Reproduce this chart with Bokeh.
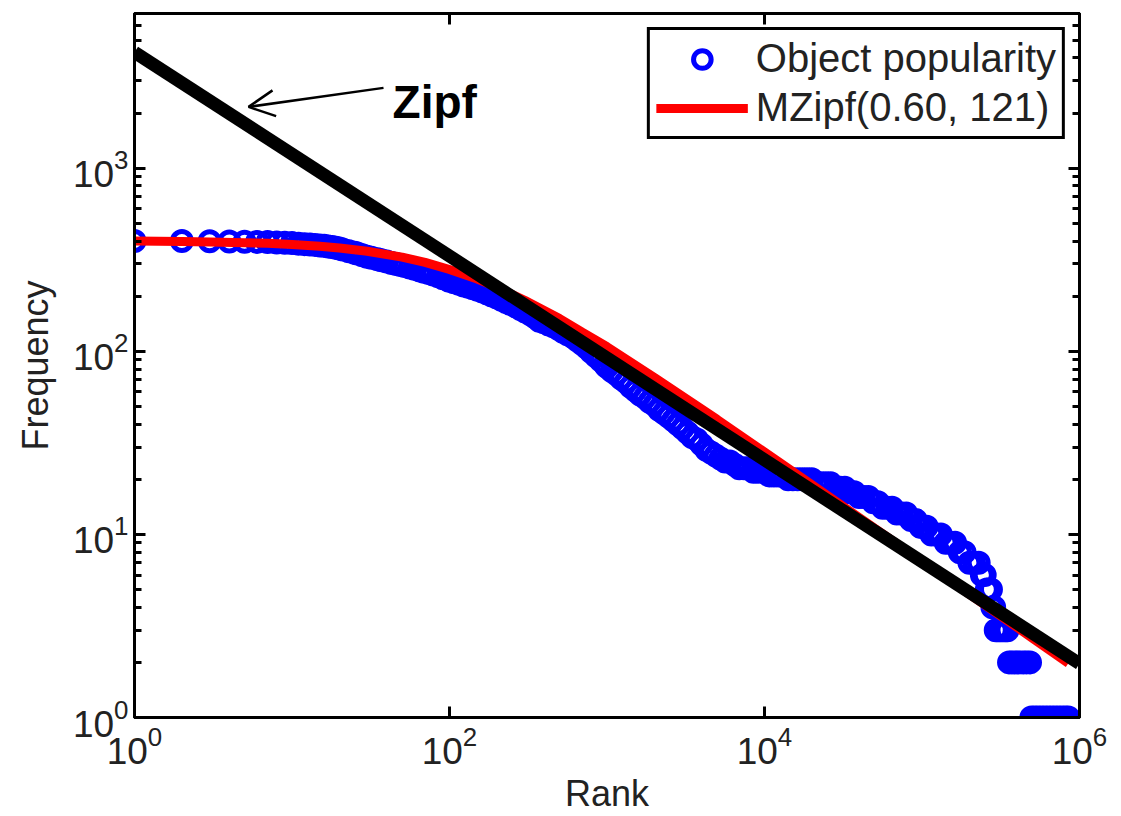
from bokeh.plotting import figure
from bokeh.models import (Range1d, FixedTicker, LogAxis, Legend, LegendItem,
                          Label, Arrow, OpenHead)
from bokeh.embed import file_html
from bokeh.resources import INLINE

# ---- data ----
obj_rank = [1, 2, 3, 4, 5, 6, 7, 8, 9, 10, 11, 12, 13, 14, 15, 16, 17, 18, 19, 20,
            21, 23, 25, 26, 28, 30, 32, 35, 37, 40, 43, 46, 49, 52, 56, 60, 65, 69, 74, 79, 85, 91, 98,
            100, 107, 115, 123, 132, 141, 151, 162, 174, 186, 200, 214, 229, 245, 263, 282, 302, 324,
            347, 372, 398, 427, 457, 490, 525, 562, 603, 646, 692, 741, 794, 851, 912, 977,
            1000, 1072, 1148, 1230, 1318, 1413, 1514, 1622, 1738, 1862, 1995, 2138, 2291, 2455, 2630,
            2818, 3020, 3236, 3467, 3715, 3981, 4266, 4571, 4898, 5248, 5623, 6026, 6457, 6918, 7413,
            7943, 8511, 9120, 9772,
            10000, 10720, 11480, 12300, 13180, 14130, 15140, 16220, 17380, 18620, 19950, 21380, 22910,
            24550, 26300, 28180, 30200, 32360, 34670, 37150, 39810, 42660, 45710, 48980, 52480, 56230,
            60260, 64570, 69180, 74130, 79430, 85110, 91200, 97720,
            100000, 107200, 114800, 123000, 131800, 141300, 151400, 162200, 173800, 186200,
            200000, 214000, 229000, 240000, 250000, 258000, 266000, 274000, 280000, 287000,
            294000, 302000, 311000, 320000, 330000, 340000, 349000,
            357000, 372000, 388000, 405000, 423000, 442000, 462000, 485000,
            495000, 520000, 546000, 574000, 603000, 634000, 666000, 700000, 736000, 774000, 813000, 850000]
obj_freq = [400, 400, 399, 398, 397, 396, 395, 393, 392, 390, 387, 385, 383, 381, 379, 377, 374, 371, 368, 364,
            360, 352, 345, 342, 335, 328, 324, 318, 314, 309, 304, 300, 296, 292, 287, 282, 276, 272, 268, 263, 257, 251, 245,
            243, 238, 234, 229, 225, 221, 217, 212, 207, 202, 197, 191, 186, 181, 176, 170, 165, 160,
            154, 147, 144, 140, 137, 133, 128, 124, 120, 115, 110, 105, 99, 94, 89, 84,
            82, 78, 75, 71, 68, 64, 61, 58, 56, 53, 51, 48, 46, 44, 42,
            40, 38, 36, 34, 33, 31, 29, 28, 27, 26, 25, 25, 24, 23, 23,
            23, 22, 22, 22,
            22, 21, 21, 21, 21, 20, 20, 20, 20, 20, 20, 19, 19,
            19, 19, 18, 18, 18, 17, 17, 16, 16, 16, 15, 15, 14,
            14, 14, 13, 13, 13, 12, 12, 11,
            11, 11, 10, 10, 10, 9, 9, 9, 8, 8,
            7, 7, 7, 6, 6, 5, 5, 5, 4, 4,
            3, 3, 3, 3, 3, 3, 3,
            2, 2, 2, 2, 2, 2, 2, 2,
            1, 1, 1, 1, 1, 1, 1, 1, 1, 1, 1, 1]

mz_rank = [1, 2, 3, 5, 7, 10, 15, 20, 30, 50, 70, 100, 150, 200, 300, 500, 700, 1000,
           2000, 5000, 10000, 20000, 50000, 100000, 200000, 500000, 850000]
mz_freq = [400, 398, 396, 392, 389, 383, 375, 367, 352, 327, 306, 280, 248, 224, 190, 151, 127, 106,
           72, 42.5, 28.2, 18.7, 10.8, 7.14, 4.71, 2.72, 1.98]

zipf_rank = [1, 1000000]
zipf_freq = [4300, 1.97]

x_ticks = [1, 100, 10000, 1000000]
y_ticks = [1, 10, 100, 1000]
y_minor = [m * t for t in y_ticks for m in range(2, 10)]

FONT = "Liberation Sans"

p = figure(width=1121, height=816, x_axis_type="log", y_axis_type="log",
           x_range=Range1d(1, 1e6), y_range=Range1d(1, 7000),
           output_backend="svg", toolbar_location=None,
           min_border_left=134, min_border_right=42, min_border_top=13, min_border_bottom=97)
p.xgrid.visible = False
p.ygrid.visible = False
p.outline_line_color = "black"
p.outline_line_width = 3
p.background_fill_color = "white"
p.border_fill_color = "white"


def style(ax):
    ax.axis_line_color = "black"
    ax.axis_line_width = 3
    ax.major_tick_in = 11
    ax.major_tick_out = 0
    ax.minor_tick_in = 7
    ax.minor_tick_out = 0
    ax.major_tick_line_width = 3
    ax.minor_tick_line_width = 3
    ax.major_tick_line_color = "black"
    ax.minor_tick_line_color = "black"
    ax.major_label_text_font = FONT
    ax.major_label_text_font_size = "37px"
    ax.major_label_text_color = "#222222"
    ax.axis_label_text_font = FONT
    ax.axis_label_text_font_style = "normal"
    ax.axis_label_text_font_size = "36px"
    ax.axis_label_text_color = "#222222"


xa = p.xaxis[0]
xa.ticker = FixedTicker(ticks=x_ticks, minor_ticks=[])
style(xa)
xa.axis_label = "Rank"
xa.major_label_standoff = 8
xa.axis_label_standoff = 6

ya = p.yaxis[0]
ya.ticker = FixedTicker(ticks=y_ticks, minor_ticks=y_minor)
style(ya)
ya.axis_label = "Frequency"
ya.major_label_standoff = 6
ya.axis_label_standoff = 14

top = LogAxis(ticker=FixedTicker(ticks=x_ticks, minor_ticks=[]))
style(top)
top.major_label_text_font_size = "1px"
top.major_label_text_color = None
top.major_label_standoff = 0
p.add_layout(top, "above")

right = LogAxis(ticker=FixedTicker(ticks=y_ticks, minor_ticks=y_minor))
style(right)
right.major_label_text_font_size = "1px"
right.major_label_text_color = None
right.major_label_standoff = 0
p.add_layout(right, "right")

sc = p.scatter(obj_rank, obj_freq, marker="circle", size=19, fill_color=None,
               line_color="blue", line_width=5)
ln = p.line(mz_rank, mz_freq, line_color="red", line_width=9)
p.line(zipf_rank, zipf_freq, line_color="black", line_width=13)

p.add_layout(Label(x=43.5, y=2303, text="Zipf", text_font=FONT, text_font_size="46px",
                   text_font_style="bold", text_color="black", text_baseline="alphabetic"))
p.add_layout(Arrow(end=OpenHead(size=26, line_width=2.5, line_color="black"),
                   x_start=38.1, y_start=2747, x_end=5.3, y_end=2163,
                   line_width=2.5, line_color="black"))

legend = Legend(items=[LegendItem(label="Object popularity", renderers=[sc]),
                       LegendItem(label="MZipf(0.60, 121)", renderers=[ln])],
                location="top_right", margin=14, padding=6, spacing=4,
                label_text_font=FONT, label_text_font_size="40px", label_text_color="#222222",
                glyph_width=92, glyph_height=44, label_standoff=8,
                border_line_color="black", border_line_width=3, border_line_alpha=1,
                background_fill_color="white", background_fill_alpha=1)
p.add_layout(legend)

open("out.html", "w").write(file_html(p, INLINE))
